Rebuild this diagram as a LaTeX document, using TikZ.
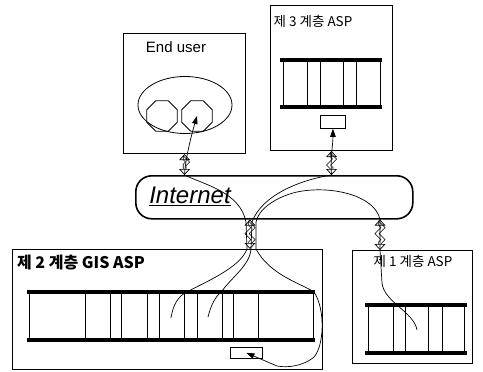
\documentclass[tikz,border=0pt]{standalone}
\usepackage{fontspec}
\setmainfont{Liberation Sans}
\newfontfamily\krfont{Noto Sans CJK KR}
\usetikzlibrary{arrows.meta, positioning, shapes.geometric, decorations.pathmorphing}

\tikzset{
  frame/.style={draw, line width=1.1pt, anchor=north west, inner sep=0pt},
  boxlbl/.style={inner sep=0pt, font=\krfont\fontsize{13.5}{13.5}\selectfont},
  rail/.style={line width=3.2pt},
  cell/.style={line width=0.9pt},
  port/.style={draw, line width=0.8pt, inner sep=0pt},
  lnk/.style={double, double distance=2pt, line width=0.7pt,
    {Triangle[open,length=6pt,width=11pt]}-{Triangle[open,length=6pt,width=11pt]},
    decorate, decoration={zigzag, segment length=12pt, amplitude=3pt, pre length=5pt, post length=5pt}},
  feed/.style={line width=0.7pt, -{Triangle[length=8pt,width=5.5pt]}},
}

\begin{document}
\begin{tikzpicture}[x=1pt, y=-1pt]
  \useasboundingbox (0,0) rectangle (483,372);

  % the four sites
  \node[frame, minimum width=122pt, minimum height=120pt] (enduser) at (123,33) {};
  \node[frame, minimum width=122pt, minimum height=145pt] (tier3) at (270,5) {};
  \node[frame, minimum width=310pt, minimum height=120pt] (gis) at (12,249) {};
  \node[frame, minimum width=120pt, minimum height=113pt] (tier1) at (352,250) {};
  \node[draw, line width=1.6pt, rounded corners=16pt, anchor=north west, inner sep=0pt,
        minimum width=277pt, minimum height=43pt] (internet) at (135,175) {};

  \node[inner sep=0pt, font=\fontsize{15}{15}\selectfont] (eulbl) at (176,47) {End user};
  \node[boxlbl] (t3lbl) at (313,21) {제 3 계층 ASP};
  \node[boxlbl, font=\krfont\bfseries\fontsize{16}{16}\selectfont] (gislbl) at (81,263) {제 2 계층 GIS ASP};
  \node[boxlbl] (t1lbl) at (413,261) {제 1 계층 ASP};
  \node[inner sep=0pt, font=\itshape\fontsize{24}{24}\selectfont] (inetlbl) at (190,196) {\underline{Internet}};

  % end user terminal
  \node[draw, ellipse, line width=0.8pt, minimum width=94pt, minimum height=57pt] (disk) at (185,105) {};
  \node[draw, regular polygon, regular polygon sides=8, line width=0.8pt, minimum size=33pt] (oct1) at (162,116) {};
  \node[draw, regular polygon, regular polygon sides=8, line width=0.8pt, minimum size=33pt] (oct2) at (197,116) {};

  % service bars
  \draw[rail] (280,60) -- (382,60);
  \draw[rail] (280,107) -- (382,107);
  \foreach \x in {283,307,320,343,356,380}
    \draw[cell] (\x,60) -- (\x,107);
  \draw[rail] (27,292) -- (315,292);
  \draw[rail] (27,340) -- (315,340);
  \foreach \x in {29,85,110,121,147,159,184,197,222,233,258,313}
    \draw[cell] (\x,292) -- (\x,340);
  \draw[rail] (365,305) -- (467,305);
  \draw[rail] (365,353) -- (467,353);
  \foreach \x in {368,393,405,428,442,464}
    \draw[cell] (\x,305) -- (\x,353);

  \node[port, anchor=north west, minimum width=25pt, minimum height=13pt] (t3rect) at (320,115) {};
  \node[port, anchor=north west, minimum width=32pt, minimum height=11pt] (gisrect) at (230,347) {};

  % links to the internet
  \coordinate (euport) at (enduser.south |- internet.north);
  \coordinate (t3port) at (tier3.south |- internet.north);
  \coordinate (gisport) at (250,249);
  \coordinate (gisin) at (gisport |- internet.south);
  \coordinate (t1port) at (380,250);
  \coordinate (t1in) at (t1port |- internet.south);
  \coordinate (gcell1) at (171,318);
  \coordinate (gcell2) at (208,317);
  \coordinate (t1cell) at (417,330);

  \draw[lnk] (enduser.south) -- (euport);
  \draw[lnk] (tier3.south) -- (t3port);
  \draw[lnk] (gisin) -- (gisport);
  \draw[lnk] (t1in) -- (t1port);

  % request paths
  \draw[feed] (gcell1) .. controls (173,305) and (178,296) .. (187,292)
    .. controls (205,282) and (240,268) .. (247,249) -- (246,222)
    .. controls (240,192) and (205,185) .. (euport)
    .. controls (185,162) and (190,140) .. (oct2.center);
  \draw[feed] (gcell2) .. controls (211,305) and (215,297) .. (222,291)
    .. controls (232,277) and (250,265) .. (251,249) -- (252,222)
    .. controls (262,195) and (300,180) .. (t3port)
    .. controls (330,160) and (333,145) .. (t3rect.south);
  \draw[feed] (t1cell) .. controls (414,312) and (384,302) .. (382,283) -- (t1port) -- (t1in)
    .. controls (375,195) and (330,185) .. (297,192)
    .. controls (275,197) and (258,210) .. (256,222) -- (256,249)
    .. controls (270,275) and (300,283) .. (314,292)
    .. controls (326,310) and (324,348) .. (313,358)
    .. controls (302,366) and (288,368) .. (277,366)
    -- (gisrect.center);
\end{tikzpicture}
\end{document}
